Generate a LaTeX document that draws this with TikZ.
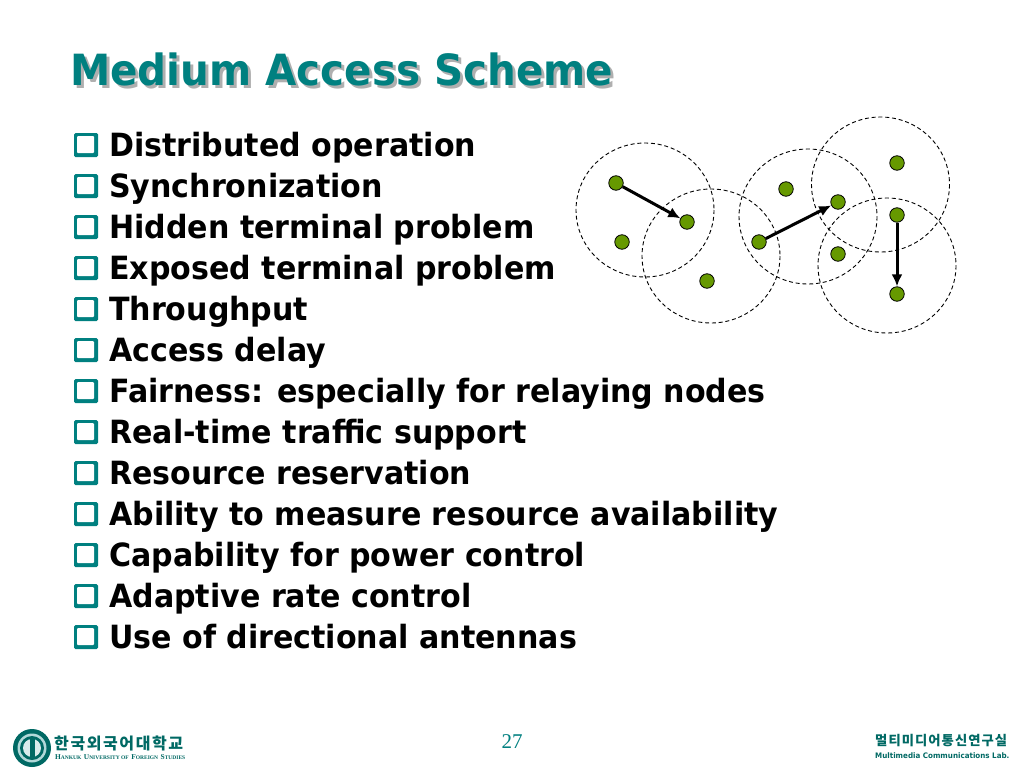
\documentclass[tikz,border=0pt]{standalone}
\usepackage{fontspec}
\setmainfont[FakeStretch=0.94]{DejaVu Sans}
\newfontfamily\korfont[LetterSpace=10]{Noto Sans CJK KR}
\newfontfamily\labkorfont[LetterSpace=8]{Noto Sans CJK KR}
\newfontfamily\numfont{Liberation Serif}
\newfontfamily\engfont{Liberation Serif}
\usetikzlibrary{arrows.meta}
\definecolor{deepteal}{RGB}{0,128,128}
\definecolor{titleshade}{RGB}{175,175,175}
\definecolor{dotgreen}{RGB}{102,153,0}
\definecolor{logoteal}{RGB}{0,105,100}
\newcommand{\capw}[2]{{\fontsize{7.4}{8}\selectfont #1}{\fontsize{5.5}{8}\selectfont #2}}

\begin{document}
\begin{tikzpicture}[x=1pt,y=-1pt]
\tikzset{itemtext/.style={anchor=base west,inner sep=0pt,font=\fontsize{32}{32}\selectfont\bfseries}}
\tikzset{bulletshade/.style={fill=deepteal,rounded corners=1.5pt,inner sep=0pt,minimum width=24pt,minimum height=24pt}}
\tikzset{bulletbox/.style={fill=white,rounded corners=1pt,inner sep=0pt,minimum width=17pt,minimum height=17pt}}
\tikzset{headtext/.style={anchor=base west,inner sep=0pt,font=\fontsize{43}{43}\selectfont\bfseries}}
\tikzset{station/.style={circle,draw=black,fill=dotgreen,line width=0.8pt,inner sep=0pt,minimum size=14.5pt}}
\tikzset{rangering/.style={draw=black,dash pattern=on 4pt off 2.8pt,line width=0.9pt}}
\tikzset{sendarrow/.style={-{Latex[length=12pt,width=11pt]},line width=3pt}}

\useasboundingbox[fill=white] (0,0) rectangle (1024,768);

% heading
\node[headtext,text=titleshade] (headshade) at (73,88) {Medium Access Scheme};
\node[headtext,text=deepteal] (head) at (70,85) {Medium Access Scheme};

% list
\foreach \n/\txt in {0/Distributed operation,1/Synchronization,2/Hidden terminal problem,3/Exposed terminal problem,4/Throughput,5/Access delay,6/Fairness: especially for relaying nodes,7/Real-time traffic support,8/Resource reservation,9/Ability to measure resource availability,10/Capability for power control,11/Adaptive rate control,12/Use of directional antennas}{
  \node[bulletshade] (shade\n) at (86,{145+41*\n}) {};
  \node[bulletbox] (bullet\n) at (85.5,{144.5+41*\n}) {};
  \node[itemtext] (item\n) at (109,{156.5+41*\n}) {\txt};
}

% ranges
\draw[rangering] (645,210) ellipse (69 and 67);
\draw[rangering] (711,256) ellipse (69 and 67);
\draw[rangering] (808,216.5) ellipse (69 and 67.5);
\draw[rangering] (880.5,184.5) ellipse (69 and 67.5);
\draw[rangering] (887,265.5) ellipse (69 and 67.5);

% stations
\node[station] (a) at (616,183) {};
\node[station] (b) at (687,222) {};
\node[station] (c) at (622,242) {};
\node[station] (d) at (707,281) {};
\node[station] (e) at (759,242) {};
\node[station] (f) at (786,189) {};
\node[station] (g) at (838,202) {};
\node[station] (h) at (838,254) {};
\node[station] (i) at (897,163) {};
\node[station] (j) at (897,215) {};
\node[station] (k) at (897,294) {};

\draw[sendarrow] (a) -- (b);
\draw[sendarrow] (e) -- (g);
\draw[sendarrow] (j) -- (k);

% page number
\node[text=deepteal,font=\fontsize{21}{21}\numfont] (page) at (512,742) {27};

% left logo
\fill[logoteal] (32,748) circle (19);
\fill[white!70!deepteal] (32,748) circle (14.5);
\fill[logoteal] (32,748) circle (12);
\fill[white!85!deepteal] (32,748) circle (9);
\fill[logoteal] (29.5,739) rectangle (34.5,757);
\node[text=logoteal,font=\fontsize{16}{16}\korfont\bfseries,inner sep=0pt,anchor=west] (univ) at (54,743) {한국외국어대학교};
\node[text=logoteal,font=\engfont\bfseries,inner sep=0pt,anchor=west] (univeng) at (55,757) {\capw{H}{ANKUK} \capw{U}{NIVERSITY OF} \capw{F}{OREIGN} \capw{S}{TUDIES}};

% right logo
\node[text=logoteal,font=\fontsize{13.3}{14}\labkorfont\bfseries,inner sep=0pt,anchor=west] (lab) at (875,741) {멀티미디어통신연구실};
\node[text=logoteal,font=\fontsize{7.6}{8}\selectfont\bfseries,inner sep=0pt,anchor=west] (labeng) at (875,755.5) {Multimedia Communications Lab.};
\end{tikzpicture}
\end{document}
